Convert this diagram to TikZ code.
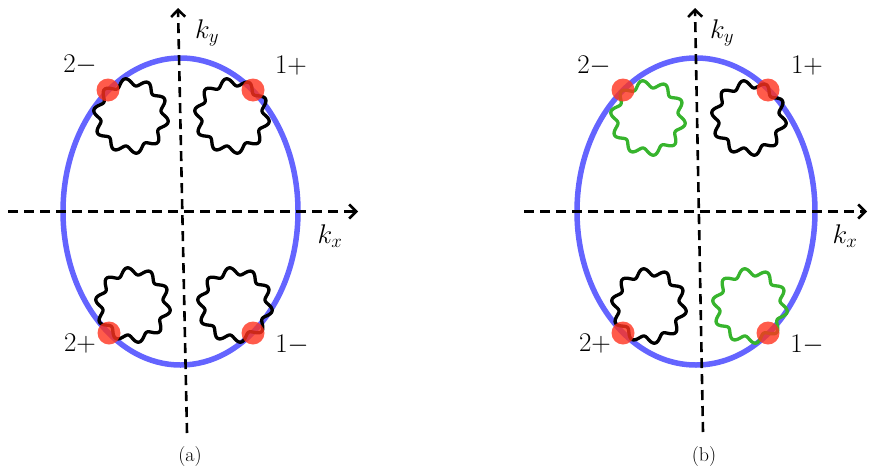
\documentclass[tikz,border=0pt]{standalone}
\usepackage{fix-cm}
\usetikzlibrary{arrows.meta}
\definecolor{ellblue}{RGB}{100,100,255}
\definecolor{dotred}{RGB}{255,50,30}
\definecolor{wgreen}{RGB}{55,180,45}
\tikzset{
  axisline/.style={line width=2.6pt, dash pattern=on 10pt off 6pt,
    -{Straight Barb[length=7pt,width=14pt]}},
  fermi/.style={draw=ellblue, line width=5.5pt},
  wig/.style={line width=3.3pt, line join=round},
  vdot/.style={circle, fill=dotred, fill opacity=0.8, minimum size=23pt, inner sep=0pt},
  lab/.style={font=\fontsize{27}{32}\selectfont, inner sep=0pt},
  capt/.style={font=\fontsize{20}{24}\selectfont, inner sep=0pt}
}
\newcommand\wiggleloop[3]{%
  \draw[wig,#3] plot[domain=0:360,samples=301,smooth,variable=\t]
    ({#1+(34+3.6*sin(10*\t))*cos(\t)},{#2+(34+3.6*sin(10*\t))*sin(\t)});}
\begin{document}
\begin{tikzpicture}[x=1pt,y=-1pt]
\useasboundingbox (0,0) rectangle (870,466);
% ---------- panel (a)
\draw[fermi] (180.5,211.5) ellipse [x radius=117.5, y radius=153.5];
\coordinate (ah0) at (8,211.5);
\coordinate (ah1) at (358,211.5);
\coordinate (av0) at (187,433);
\coordinate (av1) at (178,8);
\draw[axisline] (ah0) -- (ah1);
\draw[axisline] (av0) -- (av1);
\wiggleloop{131}{116}{black}
\wiggleloop{232}{116}{black}
\wiggleloop{133}{305}{black}
\wiggleloop{235}{305}{black}
\node[vdot] (a2m) at (108,90) {};
\node[vdot] (a1p) at (253,90) {};
\node[vdot] (a2p) at (109,333) {};
\node[vdot] (a1m) at (253,333) {};
\node[lab] (la2m) at (80,65) {$2-$};
\node[lab] (la1p) at (291,66) {$1+$};
\node[lab] (la2p) at (80,344) {$2+$};
\node[lab] (la1m) at (292,345) {$1-$};
\node[lab] (laky) at (207,33) {$k_y$};
\node[lab] (lakx) at (330,236) {$k_x$};
\node[capt] (capa) at (190,457) {(a)};
% ---------- panel (b)
\draw[fermi] (696,211.5) ellipse [x radius=119, y radius=153.5];
\coordinate (bh0) at (524,211.5);
\coordinate (bh1) at (867,211.5);
\coordinate (bv0) at (703,432);
\coordinate (bv1) at (695,8);
\draw[axisline] (bh0) -- (bh1);
\draw[axisline] (bv0) -- (bv1);
\wiggleloop{648}{118}{wgreen}
\wiggleloop{749}{118}{black}
\wiggleloop{649}{306}{black}
\wiggleloop{750}{306}{wgreen}
\node[vdot] (b2m) at (623,90) {};
\node[vdot] (b1p) at (768,90) {};
\node[vdot] (b2p) at (623,333) {};
\node[vdot] (b1m) at (768,333) {};
\node[lab] (lb2m) at (594,66) {$2-$};
\node[lab] (lb1p) at (807,66) {$1+$};
\node[lab] (lb2p) at (595,344) {$2+$};
\node[lab] (lb1m) at (807,345) {$1-$};
\node[lab] (lbky) at (722,33) {$k_y$};
\node[lab] (lbkx) at (845,236) {$k_x$};
\node[capt] (capb) at (704,457) {(b)};
\end{tikzpicture}
\end{document}
